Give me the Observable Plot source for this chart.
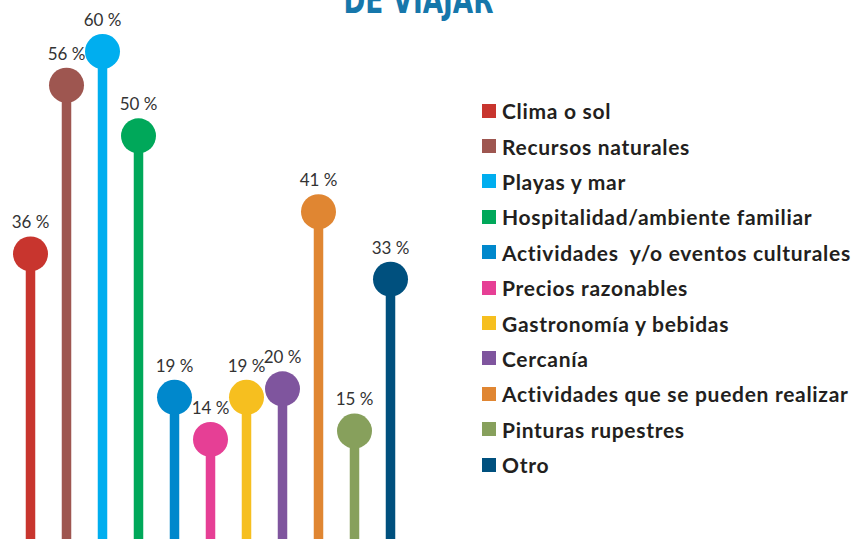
<!DOCTYPE html>
<html>
<head>
<meta charset="utf-8">
<script src="https://cdn.jsdelivr.net/npm/d3@7"></script>
<script src="https://cdn.jsdelivr.net/npm/@observablehq/plot@0.6"></script>
<style>
  html, body { margin: 0; padding: 0; background: #fff; overflow: hidden; width: 854px; height: 539px; }
  #wrap { position: relative; width: 854px; height: 539px; }
  #legend { position: absolute; left: 482px; top: 93px; font-family: Lato, "Open Sans", sans-serif; font-weight: 700; font-size: 21px; letter-spacing: 0.7px; color: #231f20; }
  .row { display: flex; align-items: center; height: 35.4px; white-space: pre; }
  .sw { width: 14px; height: 14px; margin-right: 6px; flex: none; }
</style>
</head>
<body>
<div id="wrap"></div>
<script>
const titleText = "DE VIAJAR";
const categories = [
  "Clima o sol",
  "Recursos naturales",
  "Playas y mar",
  "Hospitalidad/ambiente familiar",
  "Actividades  y/o eventos culturales",
  "Precios razonables",
  "Gastronomía y bebidas",
  "Cercanía",
  "Actividades que se pueden realizar",
  "Pinturas rupestres",
  "Otro"
];
const values = [36, 56, 60, 50, 19, 14, 19, 20, 41, 15, 33];
const colors = ["#c8352e", "#9e5650", "#00aeef", "#00a85a", "#0088cc", "#e63f95", "#f6bf1f", "#7f559e", "#e08632", "#87a05c", "#00507e"];

const data = categories.map((c, i) => ({cat: c, value: values[i], color: colors[i], label: values[i] + " %"}));

const plot = Plot.plot({
  width: 854,
  height: 539,
  margin: 0,
  style: {background: "transparent", overflow: "visible"},
  x: {type: "point", domain: categories, range: [30, 390], padding: 0, axis: null},
  y: {domain: [0, 60], range: [557, 51], axis: null},
  marks: [
    Plot.ruleX(data, {x: "cat", y1: 0, y2: "value", stroke: "color", strokeWidth: 9.5}),
    Plot.dot(data, {x: "cat", y: "value", r: 17.5, fill: "color", stroke: null}),
    Plot.text(data, {x: "cat", y: "value", text: "label", dy: -31, fontSize: 17, fill: "#333", fontFamily: "Lato, 'Open Sans', sans-serif"}),
    Plot.text([titleText], {frameAnchor: "top-left", dx: 418, dy: 12, lineAnchor: "bottom", textAnchor: "middle", fontSize: 38, fontWeight: 700, fill: "#1677ab", fontFamily: "'DejaVu Sans Condensed', 'DejaVu Sans', sans-serif", className: "ttl"})
  ]
});
document.getElementById("wrap").appendChild(plot);
plot.style.position = "absolute";
plot.style.left = "0";
plot.style.top = "0";
d3.select(plot).selectAll(".ttl text").attr("textLength", 150).attr("lengthAdjust", "spacingAndGlyphs");

const legend = d3.select("#wrap").append("div").attr("id", "legend");
const rows = legend.selectAll(".row").data(data).join("div").attr("class", "row");
rows.append("div").attr("class", "sw").style("background", d => d.color);
rows.append("span").text(d => d.cat);
</script>
</body>
</html>
